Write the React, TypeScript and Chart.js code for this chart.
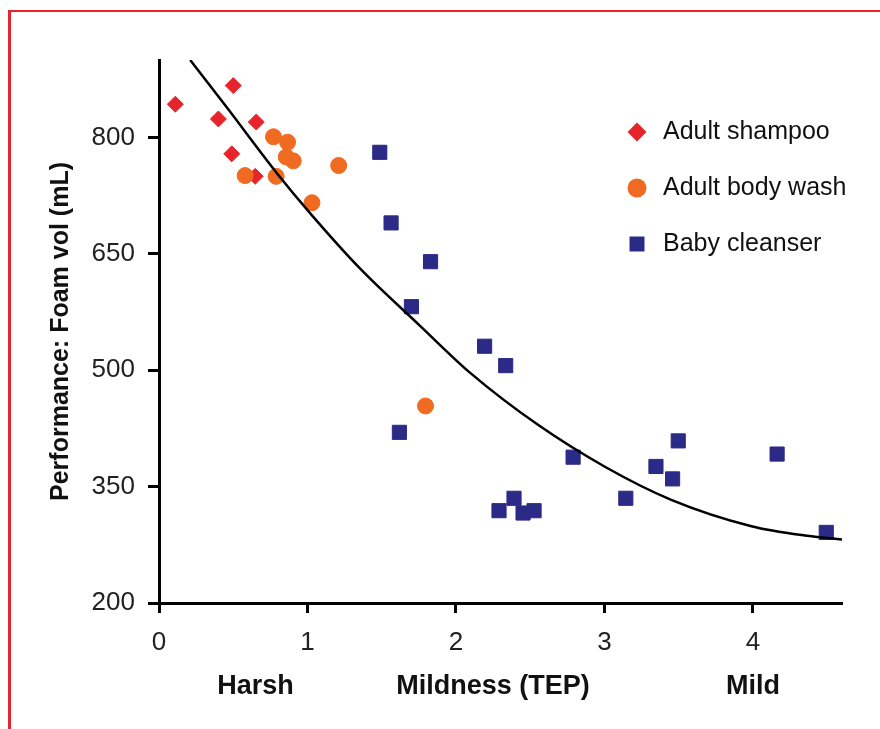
import React, { useEffect, useRef } from 'react';
import { Chart, registerables } from 'chart.js';

Chart.register(...registerables);

// ---- Data ----
const shampooX = [0.11, 0.50, 0.40, 0.655, 0.49, 0.648];
const shampooY = [843, 867, 824, 820, 779, 750];

const bodyWashX = [0.771, 0.866, 0.857, 0.904, 0.58, 0.789, 1.21, 1.03, 1.795];
const bodyWashY = [801, 794, 775, 770, 751, 750, 764, 716, 454];

const babyX = [1.487, 1.563, 1.829, 1.70, 1.619, 2.193, 2.335, 2.29, 2.391, 2.452, 2.526, 2.789, 3.144, 3.347, 3.459, 3.497, 4.163, 4.494];
const babyY = [781, 690, 640, 582, 420, 531, 506, 319, 335, 316, 319, 388, 335, 376, 360, 409, 392, 291];

const curveX = [0.21, 0.46, 0.79, 1.02, 1.36, 1.76, 2.10, 2.55, 3.00, 3.45, 3.99, 4.35, 4.60];
const curveY = [900, 838, 755, 702, 630, 557, 496, 430, 376, 333, 299, 287, 282];

const xTicks = [0, 1, 2, 3, 4];
const yTicks = [200, 350, 500, 650, 800];

const seriesLabels = ['Adult shampoo', 'Adult body wash', 'Baby cleanser'];
const xAxisLabels = ['Harsh', 'Mildness (TEP)', 'Mild'];
const yAxisTitle = 'Performance: Foam vol (mL)';

const RED = '#e5252b';
const ORANGE = '#ef6b22';
const NAVY = '#2c2a87';
const FONT = '"Liberation Sans", Arial, Helvetica, sans-serif';

const toPoints = (xs: number[], ys: number[]) => xs.map((x, i) => ({ x, y: ys[i] }));

const overlayPlugin = {
  id: 'overlay',
  afterDraw(chart: any) {
    const { ctx, scales } = chart;
    const xs = scales.x;
    ctx.save();
    // bottom descriptive labels
    ctx.font = `bold 27px ${FONT}`;
    ctx.fillStyle = '#111';
    ctx.textAlign = 'center';
    ctx.textBaseline = 'middle';
    const anchors = [0.65, 2.25, 4.0];
    xAxisLabels.forEach((t, i) => {
      ctx.fillText(t, xs.getPixelForValue(anchors[i]), 687);
    });

    // legend
    const colors = [RED, ORANGE, NAVY];
    const lx = 637;
    const ly0 = 132;
    const step = 56;
    ctx.font = `25px ${FONT}`;
    ctx.textAlign = 'left';
    seriesLabels.forEach((t, i) => {
      const y = ly0 + i * step;
      ctx.fillStyle = colors[i];
      ctx.beginPath();
      if (i === 0) {
        const r = 9.5;
        ctx.moveTo(lx, y - r);
        ctx.lineTo(lx + r, y);
        ctx.lineTo(lx, y + r);
        ctx.lineTo(lx - r, y);
        ctx.closePath();
      } else if (i === 1) {
        ctx.arc(lx, y, 9.5, 0, Math.PI * 2);
      } else {
        ctx.rect(lx - 7.5, y - 7.5, 15, 15);
      }
      ctx.fill();
      ctx.fillStyle = '#111';
      ctx.fillText(t, 663, y);
    });
    ctx.restore();
  },
};

export default function App() {
  const ref = useRef<HTMLCanvasElement>(null);

  useEffect(() => {
    if (!ref.current) return;
    const chart = new Chart(ref.current, {
      type: 'scatter',
      data: {
        datasets: [
          {
            type: 'line',
            label: 'Fit',
            data: toPoints(curveX, curveY),
            borderColor: '#000',
            borderWidth: 2.5,
            pointRadius: 0,
            fill: false,
            cubicInterpolationMode: 'monotone',
            showLine: true,
            order: 0,
          } as any,
          {
            label: seriesLabels[1],
            data: toPoints(bodyWashX, bodyWashY),
            pointStyle: 'circle',
            pointRadius: 8,
            backgroundColor: ORANGE,
            borderColor: ORANGE,
            borderWidth: 1,
            order: 1,
          },
          {
            label: seriesLabels[0],
            data: toPoints(shampooX, shampooY),
            pointStyle: 'rectRot',
            pointRadius: 8,
            backgroundColor: RED,
            borderColor: RED,
            borderWidth: 1,
            order: 2,
          },
          {
            label: seriesLabels[2],
            data: toPoints(babyX, babyY),
            pointStyle: 'rect',
            pointRadius: 10,
            backgroundColor: NAVY,
            borderColor: NAVY,
            borderWidth: 1,
            order: 3,
          },
        ],
      },
      options: {
        responsive: false,
        animation: false,
        devicePixelRatio: 1,
        layout: { padding: { top: 60, right: 38, left: 0, bottom: 0 } },
        plugins: {
          legend: { display: false },
          tooltip: { enabled: false },
        },
        scales: {
          x: {
            type: 'linear',
            min: 0,
            max: 4.6,
            border: { display: true, width: 3, color: '#000' },
            grid: {
              display: true,
              drawOnChartArea: false,
              drawTicks: true,
              tickLength: 10,
              tickWidth: 3,
              tickColor: '#000',
            },
            ticks: {
              font: { family: FONT, size: 26 },
              color: '#222',
              padding: 14,
            },
            afterBuildTicks: (s: any) => {
              s.ticks = xTicks.map((v) => ({ value: v }));
            },
            afterFit: (s: any) => {
              s.height = 126;
            },
          },
          y: {
            type: 'linear',
            min: 200,
            max: 900,
            border: { display: true, width: 3, color: '#000' },
            grid: {
              display: true,
              drawOnChartArea: false,
              drawTicks: true,
              tickLength: 11,
              tickWidth: 3,
              tickColor: '#000',
            },
            ticks: {
              font: { family: FONT, size: 26 },
              color: '#222',
              padding: 13,
            },
            title: {
              display: true,
              text: yAxisTitle,
              font: { family: FONT, size: 25, weight: 'bold' },
              color: '#111',
              padding: { top: 46, bottom: 0 },
            },
            afterBuildTicks: (s: any) => {
              s.ticks = yTicks.map((v) => ({ value: v }));
            },
            afterFit: (s: any) => {
              s.width = 159;
            },
          },
        },
      } as any,
      plugins: [overlayPlugin],
    });
    return () => chart.destroy();
  }, []);

  return (
    <div
      style={{
        position: 'absolute',
        left: 0,
        top: 0,
        width: 880,
        height: 729,
        background: '#fff',
        overflow: 'hidden',
      }}
    >
      <canvas ref={ref} width={880} height={729} style={{ display: 'block', width: 880, height: 729 }} />
      <div style={{ position: 'absolute', left: 8, top: 10, width: 872, height: 2, background: RED }} />
      <div style={{ position: 'absolute', left: 8, top: 10, width: 3, height: 719, background: RED }} />
    </div>
  );
}
